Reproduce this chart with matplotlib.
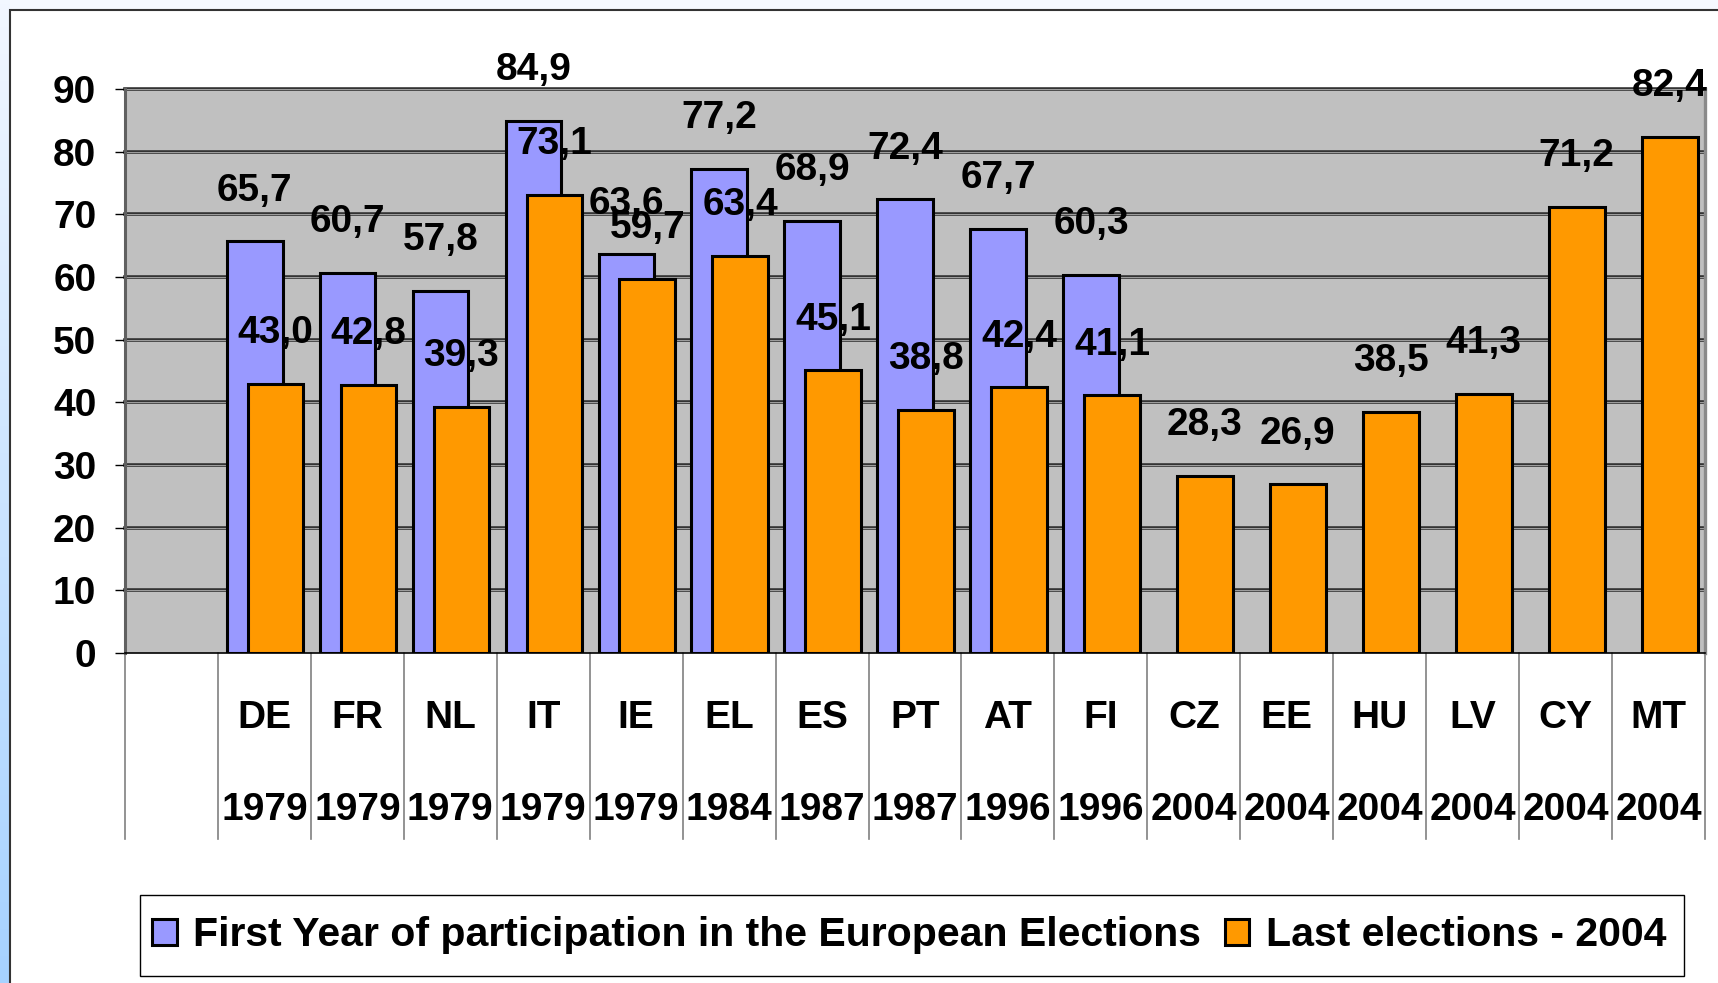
import numpy as np
import matplotlib
matplotlib.use('Agg')
import matplotlib.pyplot as plt
import matplotlib.transforms as mtransforms
from matplotlib.patches import Rectangle

plt.rcParams['font.family'] = ['Liberation Sans', 'DejaVu Sans']
plt.rcParams['font.weight'] = 'bold'

# data
countries = ['DE', 'FR', 'NL', 'IT', 'IE', 'EL', 'ES', 'PT', 'AT', 'FI',
             'CZ', 'EE', 'HU', 'LV', 'CY', 'MT']
years = ['1979', '1979', '1979', '1979', '1979', '1984', '1987', '1987',
         '1996', '1996', '2004', '2004', '2004', '2004', '2004', '2004']
first_year = [65.7, 60.7, 57.8, 84.9, 63.6, 77.2, 68.9, 72.4, 67.7, 60.3]
last_2004 = [43.0, 42.8, 39.3, 73.1, 59.7, 63.4, 45.1, 38.8, 42.4, 41.1,
             28.3, 26.9, 38.5, 41.3, 71.2, 82.4]

W, H = 1718, 983
fig = plt.figure(figsize=(W / 100, H / 100), dpi=100, facecolor='#F5F9FF')

# background: light blue strip on the left, white panel with dark border
bg = fig.add_axes([0, 0, 1, 1], zorder=-10)
bg.set_xlim(0, W)
bg.set_ylim(H, 0)
bg.axis('off')
grad = np.linspace(0, 1, 256).reshape(-1, 1)
cmap = matplotlib.colors.LinearSegmentedColormap.from_list('strip', ['#F2F7FF', '#A6D2FF'])
bg.imshow(grad, cmap=cmap, extent=[0, 10, H, 0], aspect='auto')
bg.add_patch(Rectangle((10, 10), W, H, facecolor='white', edgecolor='#333333', lw=1.5))
# legend box
bg.add_patch(Rectangle((140, 895), 1544, 81, facecolor='white', edgecolor='black', lw=1))

ax = fig.add_axes([125 / W, 1 - 653 / H, 1580 / W, 564 / H])
ax.set_facecolor('#C0C0C0')

xf = np.arange(1, len(first_year) + 1)
xl = np.arange(1, len(last_2004) + 1)
b1 = ax.bar(xf - 0.105, first_year, width=0.6, color='#9999FF', edgecolor='black',
            lw=2.2, zorder=3, label='First Year of participation in the European Elections')
b2 = ax.bar(xl + 0.12, last_2004, width=0.6, color='#FF9900', edgecolor='black',
            lw=2.2, zorder=3, label='Last elections - 2004')

for x, v in zip(xf - 0.105, first_year):
    ax.text(x, v + 6.5, f'{v:.1f}'.replace('.', ','), ha='center', va='baseline',
            fontsize=28, fontweight='bold', zorder=5)
for x, v in zip(xl + 0.12, last_2004):
    ax.text(x, v + 6.5, f'{v:.1f}'.replace('.', ','), ha='center', va='baseline',
            fontsize=28, fontweight='bold', zorder=5)

ax.set_xlim(-0.5, 16.5)
ax.set_ylim(0, 90)
ax.set_yticks(range(0, 91, 10))

# gridlines: dark double line look
for v in range(10, 91, 10):
    ax.axhline(v, color='#333333', lw=2.6, zorder=1, clip_on=False)
    ax.axhline(v, color='#A0A0A0', lw=0.7, zorder=1.1, clip_on=False)

ax.spines['top'].set_visible(False)
ax.spines['left'].set_color('#606060')
ax.spines['left'].set_linewidth(2.2)
ax.spines['right'].set_color('#8A8A8A')
ax.spines['right'].set_linewidth(2.4)
ax.spines['bottom'].set_color('black')
ax.spines['bottom'].set_linewidth(1.2)
ax.spines['bottom'].set_zorder(4)

ax.tick_params(axis='y', length=7.2, width=1, pad=13.5, labelsize=28)
ax.tick_params(axis='x', length=0, pad=33.5, labelsize=28)
ax.set_xticks(range(17))
ax.set_xticklabels([''] + [f'{c}\n\n{y}' for c, y in zip(countries, years)],
                   fontweight='bold')
for t in ax.get_xticklabels():
    t.set_linespacing(1.36)
for t in ax.get_yticklabels():
    t.set_fontweight('bold')

# category separators below the axis
trans = mtransforms.blended_transform_factory(ax.transData, ax.transAxes)
for k in range(18):
    ax.plot([k - 0.5, k - 0.5], [0, -186 / 564], transform=trans, color='#808080',
            lw=1.2, clip_on=False)

leg = fig.legend(handles=[b1, b2], loc='center', ncol=2,
                 bbox_to_anchor=(152 / W, 1 - 976 / H, 1514 / W, 81 / H), mode='expand',
                 frameon=False, prop={'weight': 'bold', 'size': 29.5},
                 handlelength=0.6, handleheight=0.6, handletextpad=0.4,
                 borderpad=0, borderaxespad=0)

fig.savefig('out.png', dpi=100, facecolor=fig.get_facecolor())
